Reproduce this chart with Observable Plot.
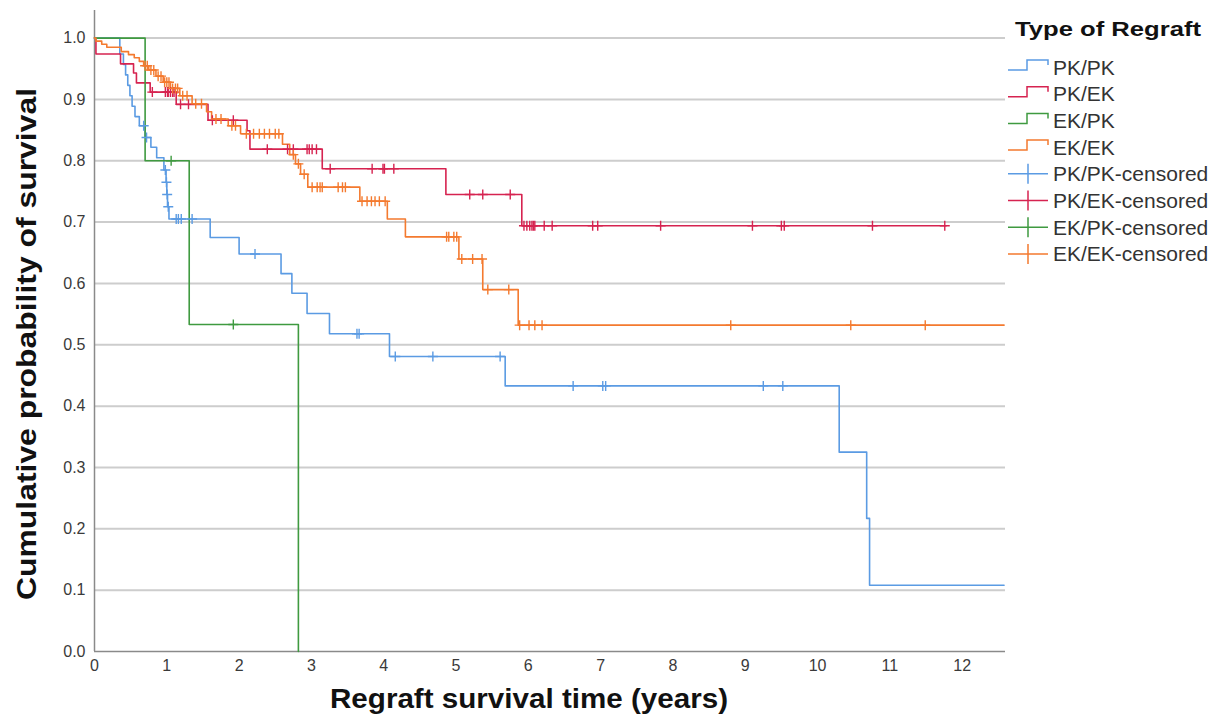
<!DOCTYPE html>
<html><head><meta charset="utf-8">
<script src="https://cdn.jsdelivr.net/npm/d3@7"></script>
<script src="https://cdn.jsdelivr.net/npm/@observablehq/plot@0.6"></script>
<style>
body{margin:0;background:#fff;}
#wrap{position:relative;width:1212px;height:716px;font-family:"Liberation Sans",Arial,sans-serif;}
#wrap svg.overlay{position:absolute;left:0;top:0;}
</style></head><body><div id="wrap"></div>
<script>
// ---- data ----
const seriesNames = ["PK/PK", "PK/EK", "EK/PK", "EK/EK"];
const seriesColors = ["#5b9be3", "#d62350", "#3f9a40", "#f47a2f"];
const xTicks = [0,1,2,3,4,5,6,7,8,9,10,11,12];
const yTicks = [0.0,0.1,0.2,0.3,0.4,0.5,0.6,0.7,0.8,0.9,1.0];
const legendTitle = "Type of Regraft";
const xTitle = "Regraft survival time (years)";
const yTitle = "Cumulative probability of survival";

const pkpkTimes = [0.35,0.40,0.43,0.46,0.49,0.52,0.56,0.62,0.70,0.78,0.86,0.96,0.99,1.00,1.01,1.03,1.60,2.00,2.58,2.73,2.94,3.25,4.08,5.68,10.30,10.68,10.72];
const pkpkSurv  = [0.974,0.957,0.940,0.923,0.906,0.889,0.872,0.857,0.838,0.822,0.805,0.785,0.765,0.745,0.725,0.705,0.675,0.648,0.616,0.584,0.551,0.518,0.481,0.433,0.325,0.217,0.108];
const pkpkCensored = [0.68,0.72,0.98,0.995,1.005,1.02,1.13,1.16,1.20,1.35,2.22,3.63,3.66,4.16,4.68,5.61,6.62,7.03,7.07,9.25,9.52];
const pkpkEnd = 12.58;

const pkekTimes = [0.02,0.36,0.54,0.58,0.77,1.13,1.57,2.11,2.15,3.15,4.86,5.91];
const pkekSurv  = [0.974,0.958,0.943,0.927,0.912,0.892,0.866,0.849,0.819,0.787,0.745,0.694];
const pkekCensored = [0.80,0.98,1.01,1.02,1.05,1.08,1.10,1.19,1.30,1.63,1.92,2.39,2.67,2.75,2.94,2.97,3.01,3.07,3.26,3.84,3.99,4.01,4.14,5.19,5.37,5.75,5.94,5.98,6.02,6.05,6.07,6.09,6.22,6.33,6.89,6.96,7.83,9.10,9.50,9.54,10.76,11.76];
const pkekEnd = 11.78;

const ekpkTimes = [0.70,1.31,2.82];
const ekpkSurv  = [0.80,0.533,0.0];
const ekpkCensored = [1.06,1.92];
const ekpkEnd = 2.82;

const ekekTimes = [0.02,0.10,0.17,0.37,0.47,0.55,0.62,0.68,0.75,0.85,0.95,1.05,1.18,1.35,1.55,1.62,1.85,2.02,2.60,2.70,2.78,2.85,2.95,3.67,4.05,4.30,5.04,5.37,5.86];
const ekekSurv  = [0.995,0.990,0.985,0.978,0.973,0.968,0.962,0.955,0.948,0.938,0.928,0.918,0.906,0.893,0.880,0.868,0.857,0.844,0.827,0.810,0.795,0.778,0.757,0.734,0.705,0.676,0.640,0.590,0.532];
const ekekCensored = [0.70,0.73,0.78,0.82,0.88,0.92,0.97,1.00,1.03,1.08,1.12,1.15,1.22,1.28,1.40,1.48,1.68,1.75,1.90,1.95,2.10,2.20,2.28,2.35,2.42,2.50,2.55,2.75,2.82,2.90,3.01,3.08,3.12,3.15,3.37,3.43,3.47,3.70,3.77,3.83,3.88,3.94,4.02,4.87,4.90,4.97,5.01,5.08,5.23,5.36,5.44,5.73,5.88,6.01,6.09,6.19,8.80,10.46,11.49];
const ekekEnd = 12.58;

// ---- build tables ----
const groups = [
  {name: "PK/PK", times: pkpkTimes, surv: pkpkSurv, cens: pkpkCensored, end: pkpkEnd},
  {name: "PK/EK", times: pkekTimes, surv: pkekSurv, cens: pkekCensored, end: pkekEnd},
  {name: "EK/PK", times: ekpkTimes, surv: ekpkSurv, cens: ekpkCensored, end: ekpkEnd},
  {name: "EK/EK", times: ekekTimes, surv: ekekSurv, cens: ekekCensored, end: ekekEnd}
];
const curveRows = [];
const censorRows = [];
for (const g of groups) {
  curveRows.push({series: g.name, t: 0, s: 1});
  g.times.forEach((t, i) => curveRows.push({series: g.name, t, s: g.surv[i]}));
  const lastT = g.times[g.times.length - 1];
  if (g.end > lastT) curveRows.push({series: g.name, t: g.end, s: g.surv[g.surv.length - 1]});
  for (const c of g.cens) {
    let s = 1;
    g.times.forEach((t, i) => { if (t <= c) s = g.surv[i]; });
    censorRows.push({series: g.name, t: c, s});
  }
}

const plusSymbol = {
  draw(ctx, size) {
    const r = Math.sqrt(size / Math.PI);
    ctx.moveTo(-r, 0); ctx.lineTo(r, 0);
    ctx.moveTo(0, -r); ctx.lineTo(0, r);
  }
};

const plot = Plot.plot({
  width: 1010, height: 716,
  marginLeft: 94, marginRight: 5, marginTop: 10, marginBottom: 65,
  x: {domain: [0, 12.6], axis: null},
  y: {domain: [0, 1.045], axis: null},
  color: {domain: seriesNames, range: seriesColors},
  style: {fontFamily: "'Liberation Sans', Arial, sans-serif", color: "#3a3a3a", background: "transparent"},
  marks: [
    Plot.ruleY(yTicks.filter(d => d > 0), {stroke: "#cdcdcd", strokeWidth: 2}),
    Plot.ruleY([0], {stroke: "#8a8a8a", strokeWidth: 1.5}),
    Plot.ruleX([0], {stroke: "#8a8a8a", strokeWidth: 1.5}),
    Plot.axisY(yTicks, {tickSize: 0, tickPadding: 9, fontSize: 16, tickFormat: d3.format(".1f"), label: null}),
    Plot.axisX(xTicks, {tickSize: 0, tickPadding: 8, fontSize: 16, label: null}),
    Plot.line(curveRows, {x: "t", y: "s", z: "series", stroke: "series", curve: "step-after", strokeWidth: 1.6}),
    Plot.dot(censorRows, {x: "t", y: "s", stroke: "series", fill: "none", symbol: plusSymbol, r: 5, strokeWidth: 1.4})
  ]
});
const wrap = document.getElementById("wrap");
wrap.appendChild(plot);

// ---- titles and legend overlay ----
const ov = d3.select(wrap).append("svg").attr("class", "overlay")
  .attr("width", 1212).attr("height", 716)
  .style("font-family", "'Liberation Sans', Arial, sans-serif");

ov.append("text").attr("x", 529).attr("y", 708).attr("text-anchor", "middle")
  .attr("font-size", 28).attr("font-weight", "bold").attr("fill", "#111")
  .attr("textLength", 398).attr("lengthAdjust", "spacingAndGlyphs").text(xTitle);

ov.append("text").attr("transform", "translate(36,344) rotate(-90)").attr("text-anchor", "middle")
  .attr("font-size", 28).attr("font-weight", "bold").attr("fill", "#111")
  .attr("textLength", 512).attr("lengthAdjust", "spacingAndGlyphs").text(yTitle);

ov.append("text").attr("x", 1015).attr("y", 36)
  .attr("font-size", 21).attr("font-weight", "bold").attr("fill", "#111")
  .attr("textLength", 186).attr("lengthAdjust", "spacingAndGlyphs").text(legendTitle);

const legendItems = [];
seriesNames.forEach((n, i) => legendItems.push({label: n, color: seriesColors[i], kind: "step"}));
seriesNames.forEach((n, i) => legendItems.push({label: n + "-censored", color: seriesColors[i], kind: "cens"}));
legendItems.forEach((it, i) => {
  const cy = 67 + i * 26.7;
  const g = ov.append("g");
  if (it.kind === "step") {
    g.append("path").attr("d", `M1008,${cy + 3}H1027V${cy - 7}H1048V${cy - 2}`)
      .attr("fill", "none").attr("stroke", it.color).attr("stroke-width", 1.5);
  } else {
    g.append("path").attr("d", `M1008,${cy}H1048M1028,${cy - 10}V${cy + 10}`)
      .attr("fill", "none").attr("stroke", it.color).attr("stroke-width", 1.5);
  }
  g.append("text").attr("x", 1053).attr("y", cy + 7.5)
    .attr("font-size", 21).attr("fill", "#333").text(it.label);
});
</script></body></html>
